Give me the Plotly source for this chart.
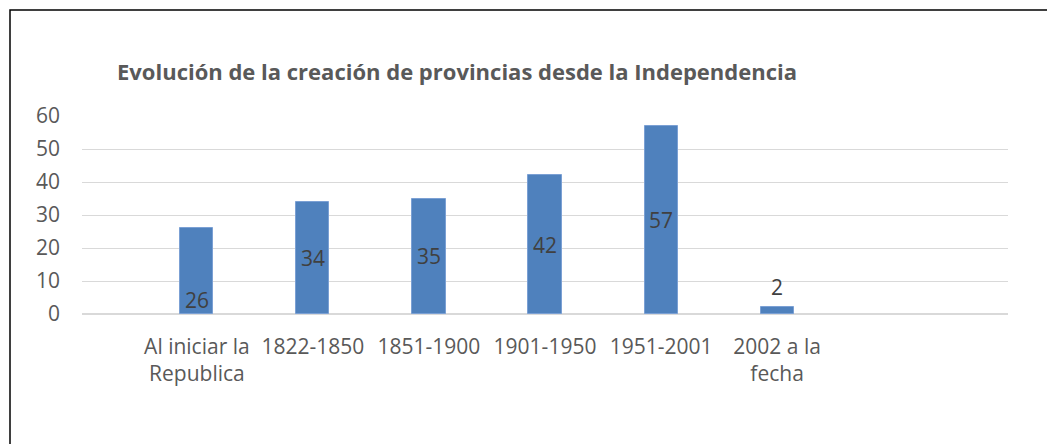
import plotly.graph_objects as go

categories = ["Al iniciar la<br>Republica", "1822-1850", "1851-1900", "1901-1950", "1951-2001", "2002 a la<br>fecha"]
values = [26, 34, 35, 42, 57, 2]
title_text = "Evolución de la creación de provincias desde la Independencia"
y_ticks = [0, 10, 20, 30, 40, 50, 60]

# page body has an 8px margin; positions below are page coords minus 8
OFF = 8
W, H = 1055 - OFF, 444 - OFF
L, R, T, B = 82 - OFF, 1008 - OFF, 116 - OFF, 314 - OFF
pw, ph = R - L, B - T

font_family = "Open Sans"

fig = go.Figure()
fig.add_trace(go.Bar(
    x=list(range(len(categories))), y=values,
    marker=dict(color="#4f81bd", line=dict(color="#7ba0d4", width=1)),
    width=0.285, hoverinfo="skip", showlegend=False,
))

for i, v in enumerate(values):
    if i == 0:
        fig.add_annotation(x=i, y=0, text=str(v), showarrow=False, yanchor="bottom", yshift=-2,
                           font=dict(size=21, color="#404040", family=font_family))
    elif v < 5:
        fig.add_annotation(x=i, y=v, text=str(v), showarrow=False, yanchor="bottom", yshift=4,
                           font=dict(size=21, color="#404040", family=font_family))
    else:
        fig.add_annotation(x=i, y=v / 2, text=str(v), showarrow=False, yanchor="middle",
                           font=dict(size=21, color="#404040", family=font_family))

fig.add_shape(type="rect", xref="paper", yref="paper",
              x0=(10 - OFF - L) / pw, x1=(1080 - L) / pw,
              y0=(B - 480) / ph, y1=(B - (10 - OFF)) / ph,
              line=dict(color="black", width=1.5), fillcolor="rgba(0,0,0,0)", layer="above")

fig.update_layout(
    width=W, height=H,
    margin=dict(l=L, r=W - R, t=T, b=H - B, pad=0),
    plot_bgcolor="white", paper_bgcolor="white",
    title=dict(text=f"<b>{title_text}</b>", x=(117 - OFF) / W, xref="container", xanchor="left",
               y=1 - (72 - OFF) / H, yref="container", yanchor="middle",
               font=dict(size=22, color="#595959", family=font_family)),
    bargap=0,
    xaxis=dict(range=[-0.99, 6.99], tickmode="array", tickvals=list(range(len(categories))),
               ticktext=categories, showgrid=False, zeroline=False, showline=False,
               ticks="", ticklabelstandoff=18,
               tickfont=dict(size=21, color="#595959", family=font_family)),
    yaxis=dict(range=[0, 60], tickmode="array", tickvals=y_ticks,
               showgrid=True, gridcolor="#d9d9d9", gridwidth=1, zeroline=True,
               zerolinecolor="#d9d9d9", zerolinewidth=1.5, showline=False, ticks="",
               ticklabelstandoff=21,
               tickfont=dict(size=21, color="#595959", family=font_family)),
)

fig.write_html("out.html")
